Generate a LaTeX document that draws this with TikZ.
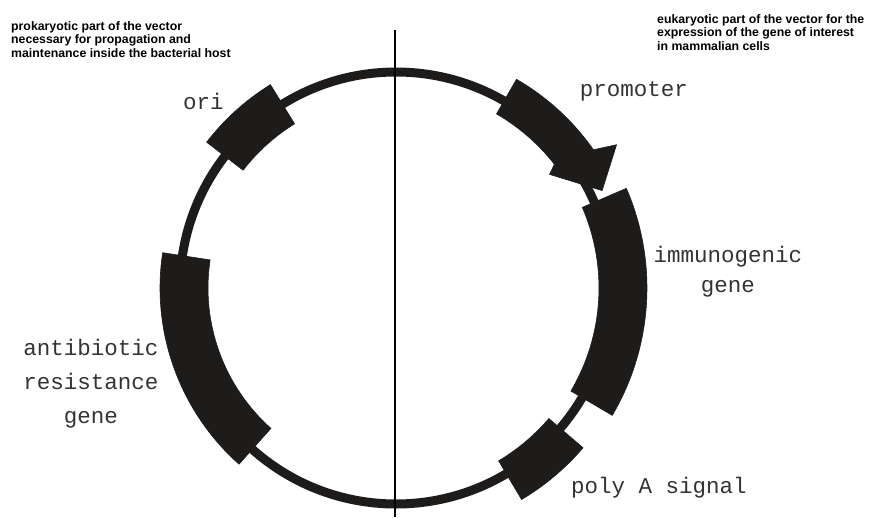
\documentclass[tikz,border=0pt]{standalone}
\usepackage{fontspec}
\setmainfont{Liberation Sans}
\setmonofont{Liberation Mono}
\usetikzlibrary{positioning}
\definecolor{blockfill}{HTML}{1E1B1B}
\definecolor{labelink}{HTML}{333333}

\begin{document}
\begin{tikzpicture}[x=1pt, y=1pt,
      every node/.style={inner sep=0pt},
      header/.style={font=\fontsize{12.3}{13.5}\selectfont\bfseries, align=left, anchor=north west},
      genelabel/.style={font=\fontsize{22.5}{34}\selectfont\ttfamily, text=labelink, align=center, anchor=base},
      backbone/.style={draw=blockfill, line width=9pt},
      plasblock/.style={fill=blockfill, draw=blockfill, line width=0.6pt, line join=miter}]
    \useasboundingbox (-396,-229) rectangle (482,288);
    \node[header] (prok) at (-385,267) {prokaryotic part of the vector\\necessary for propagation and\\maintenance inside the bacterial host};
    \node[header] (euk) at (261,274) {eukaryotic part of the vector for the\\expression of the gene of interest\\in mammalian cells};
    \draw[backbone] (0,0) circle[radius=216];
    \fill[plasblock] (121.7:239) arc[start angle=121.7, end angle=142.4, radius=239]
      -- (142.4:193) arc[start angle=142.4, end angle=121.7, radius=193] -- cycle;
    \fill[plasblock] (60:241) arc[start angle=60, end angle=35, radius=241]
      -- (33:263) -- (25.3:228) -- (36.5:191) -- (38:201)
      arc[start angle=38, end angle=60, radius=201] -- cycle;
    \fill[plasblock] (23.4:251) arc[start angle=23.4, end angle=-30.5, radius=251]
      -- (-30.5:203) arc[start angle=-30.5, end angle=23.4, radius=203] -- cycle;
    \fill[plasblock] (-40.5:246) arc[start angle=-40.5, end angle=-59.3, radius=246]
      -- (-59.3:201) arc[start angle=-59.3, end angle=-40.5, radius=201] -- cycle;
    \fill[plasblock] (171.4:236) arc[start angle=171.4, end angle=228.3, radius=236]
      -- (228.3:188) arc[start angle=228.3, end angle=171.4, radius=188] -- cycle;
    \coordinate (divtop) at (-1,258);
    \coordinate (divbot) at (-1,-229);
    \draw[line width=1.2pt] (divtop) -- (divbot);
    \node[genelabel] (ori) at (-192.5,178) {ori};
    \node[genelabel] (promoter) at (238,191) {promoter};
    \node[genelabel, font=\fontsize{22.5}{30}\selectfont\ttfamily] (immuno) at (332,-4) {immunogenic\\gene};
    \node[genelabel] (resist) at (-305,-135) {antibiotic\\resistance\\gene};
    \node[genelabel] (polya) at (263,-205) {poly A signal};
\end{tikzpicture}
\end{document}
